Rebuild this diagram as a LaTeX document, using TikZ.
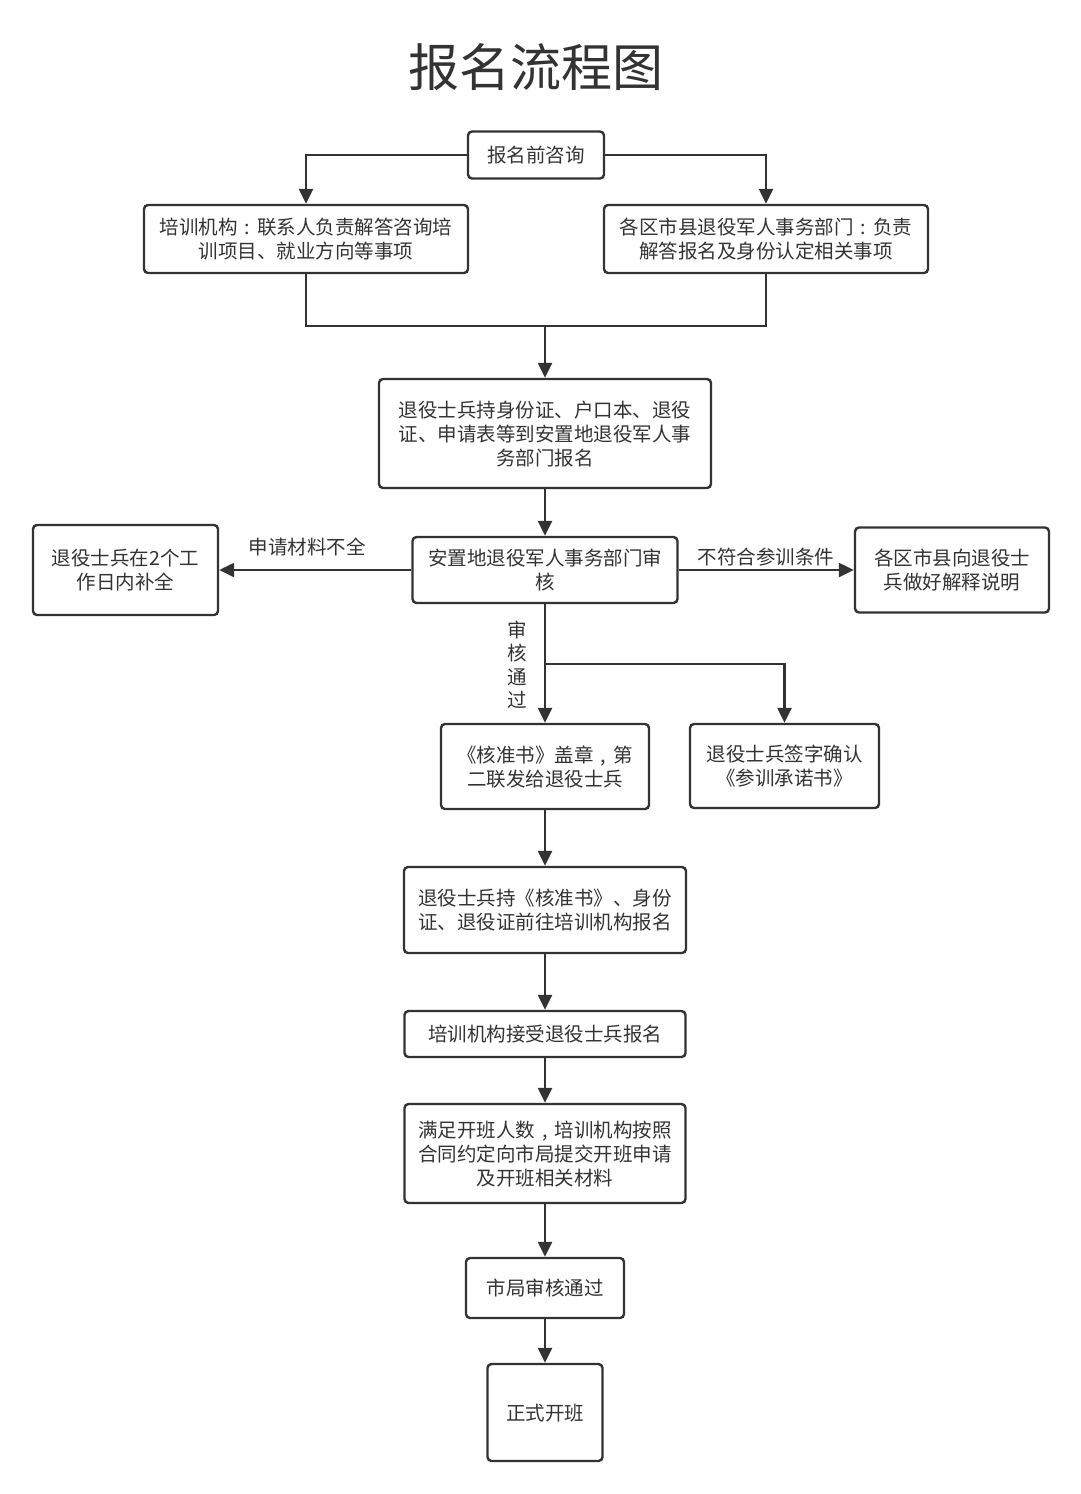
\documentclass[tikz,border=0pt]{standalone}
\usepackage{fontspec}
\setmainfont{Noto Sans CJK SC}
\usetikzlibrary{arrows.meta}
\definecolor{ink}{HTML}{333333}
\newcommand\lowtext[1]{\raisebox{-3pt}[\height][\depth]{\begin{tabular}{@{}c@{}}#1\end{tabular}}}
\newcommand\zcolon{\makebox[1em]{:}}
\newcommand\zcomma{\makebox[1em]{,}}
\begin{document}
\begin{tikzpicture}[x=1pt,y=-1pt,
  box/.style={draw=ink,line width=2.4pt,rounded corners=4pt,fill=white,
    text=ink,inner sep=0pt,
    font=\fontsize{19.5}{24}\selectfont},
  conn/.style={draw=ink,line width=2.4pt},
  arr/.style={conn,-{Triangle[length=15pt,width=14pt]}},
  lbl/.style={text=ink,inner sep=0pt,font=\fontsize{19.5}{24}\selectfont}]
\useasboundingbox[fill=white] (0,0) rectangle (1080,1494);
\node[text=ink,font=\fontsize{51}{60}\selectfont] (title) at (536,67) {报名流程图};
\node[box,minimum width=136pt,minimum height=47pt] (n1) at (536,155) {\lowtext{报名前咨询}};
\node[box,minimum width=324pt,minimum height=68pt] (n2) at (306,239) {\lowtext{培训机构\zcolon 联系人负责解答咨询培\\训项目、就业方向等事项}};
\node[box,minimum width=324pt,minimum height=68pt] (n3) at (766,239) {\lowtext{各区市县退役军人事务部门\zcolon 负责\\解答报名及身份认定相关事项}};
\node[box,minimum width=332pt,minimum height=109pt] (n4) at (545,433.5) {\lowtext{退役士兵持身份证、户口本、退役\\证、申请表等到安置地退役军人事\\务部门报名}};
\node[box,minimum width=265pt,minimum height=66pt] (n5) at (545,570) {\lowtext{安置地退役军人事务部门审\\核}};
\node[box,minimum width=185pt,minimum height=90pt] (n6) at (125.5,570) {\lowtext{退役士兵在2个工\\作日内补全}};
\node[box,minimum width=194pt,minimum height=85pt] (n7) at (952,570) {\lowtext{各区市县向退役士\\兵做好解释说明}};
\node[box,minimum width=208pt,minimum height=85pt] (n8) at (545,766.5) {\lowtext{《核准书》盖章\zcomma 第\\二联发给退役士兵}};
\node[box,minimum width=189pt,minimum height=84pt] (n9) at (784.5,766) {\lowtext{退役士兵签字确认\\《参训承诺书》}};
\node[box,minimum width=282pt,minimum height=86pt] (n10) at (545,910) {\lowtext{退役士兵持《核准书》、身份\\证、退役证前往培训机构报名}};
\node[box,minimum width=281pt,minimum height=46pt] (n11) at (545,1034) {\lowtext{培训机构接受退役士兵报名}};
\node[box,minimum width=281pt,minimum height=99pt] (n12) at (545,1153.5) {\lowtext{满足开班人数\zcomma 培训机构按照\\合同约定向市局提交开班申请\\及开班相关材料}};
\node[box,minimum width=158pt,minimum height=60pt] (n13) at (545,1288) {\lowtext{市局审核通过}};
\node[box,minimum width=115pt,minimum height=97pt] (n14) at (545,1412.5) {\lowtext{正式开班}};
\coordinate (m) at (545,326);
\coordinate (br) at (545,664);
\draw[arr] (n1.west) -| (n2.north);
\draw[arr] (n1.east) -| (n3.north);
\draw[conn] (n2.south) |- (m) -| (n3.south);
\draw[arr] (m) -- (n4.north);
\draw[arr] (n4.south) -- (n5.north);
\draw[arr] (n5.west) -- (n6.east);
\draw[arr] (n5.east) -- (n7.west);
\draw[arr] (n5.south) -- (n8.north);
\draw[arr] (br) -| (n9.north);
\draw[arr] (n8.south) -- (n10.north);
\draw[arr] (n10.south) -- (n11.north);
\draw[arr] (n11.south) -- (n12.north);
\draw[arr] (n12.south) -- (n13.north);
\draw[arr] (n13.south) -- (n14.north);
\node[lbl] (l1) at (307,547) {申请材料不全};
\node[lbl] (l2) at (766,557) {不符合参训条件};
\node[lbl,align=center,font=\fontsize{19.5}{23.5}\selectfont] (l3) at (517,665) {审\\核\\通\\过};
\end{tikzpicture}
\end{document}
